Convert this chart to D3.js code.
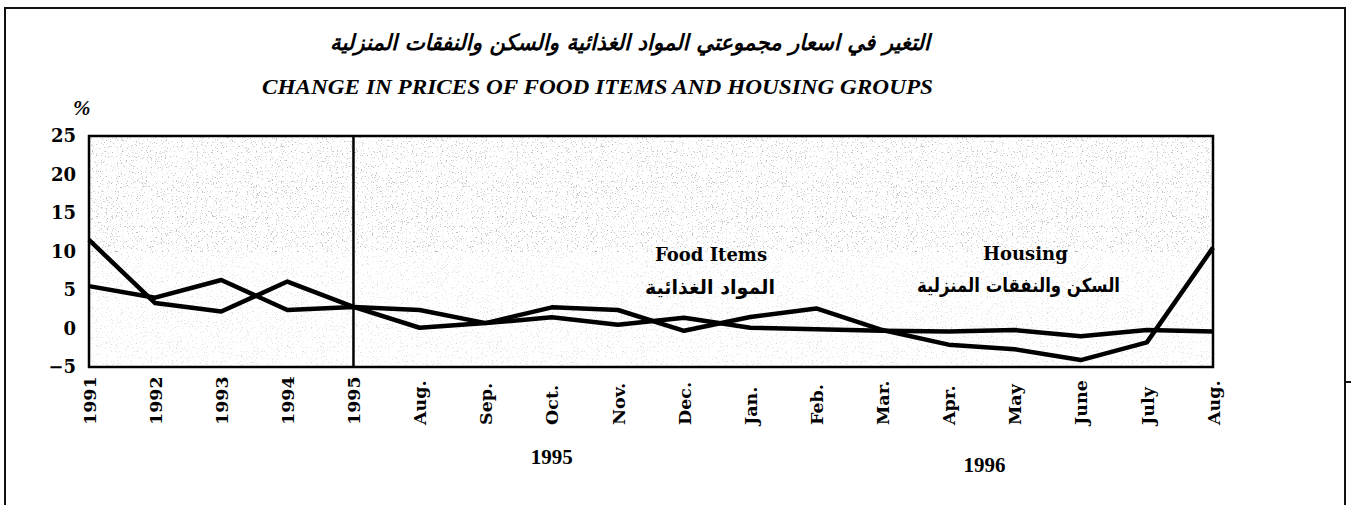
<!DOCTYPE html>
<html>
<head>
<meta charset="utf-8">
<script src="https://cdn.jsdelivr.net/npm/d3@7"></script>
<style>
  body { margin: 0; background: #fff; }
  svg { display: block; }
</style>
</head>
<body>
<svg id="chart" width="1352" height="505"></svg>
<script>
// categories along the bottom (yearly, then monthly 1995-1996)
var categories = ['1991', '1992', '1993', '1994', '1995', 'Aug.', 'Sep.', 'Oct.', 'Nov.',
  'Dec.', 'Jan.', 'Feb.', 'Mar.', 'Apr.', 'May', 'June', 'July', 'Aug.'];

// % change
var foodItems = [11.5, 3.3, 2.2, 6.1, 2.8, 0.1, 0.7, 2.75, 2.4, -0.3, 1.5, 2.6, -0.2, -2.1, -2.7, -4.1, -1.8, 10.5];
var housing = [5.5, 4.0, 6.3, 2.4, 2.8, 2.4, 0.7, 1.45, 0.5, 1.4, 0.1, -0.1, -0.3, -0.4, -0.2, -1.0, -0.2, -0.4];

var yTicks = [-5, 0, 5, 10, 15, 20, 25];

var titleAr = 'التغير في اسعار مجموعتي المواد الغذائية والسكن والنفقات المنزلية';
var titleEn = 'CHANGE IN PRICES OF FOOD ITEMS AND HOUSING GROUPS';

function buildChart() {

  //Dimension-related vars
  var plotLeft = 89, plotRight = 1213, plotTop = 136, plotBottom = 367;

  var svg = d3.select('#chart');

  var x = d3.scalePoint()
    .domain(d3.range(categories.length))
    .range([plotLeft, plotRight]);

  var y = d3.scaleLinear()
    .domain([-5, 25])
    .range([plotBottom, plotTop]);

  // stipple texture for the plot background (scan look)
  var defs = svg.append('defs');
  var f1 = defs.append('filter').attr('id', 'stipple')
    .attr('x', 0).attr('y', 0).attr('width', 1).attr('height', 1);
  f1.append('feTurbulence')
    .attr('type', 'fractalNoise')
    .attr('baseFrequency', 0.8)
    .attr('numOctaves', 2)
    .attr('seed', 7);
  f1.append('feColorMatrix')
    .attr('type', 'matrix')
    .attr('values', '0 0 0 0 0.3  0 0 0 0 0.3  0 0 0 0 0.3  8 0 0 0 -4.9');

  //Outer frame
  svg.append('path')
    .attr('d', 'M5,505 L5,8 L1345,8 L1345,505')
    .attr('fill', 'none')
    .attr('stroke', '#111')
    .attr('stroke-width', 2);
  svg.append('line')
    .attr('x1', 1345).attr('x2', 1351)
    .attr('y1', 382).attr('y2', 382)
    .attr('stroke', '#111')
    .attr('stroke-width', 2);

  //Titles
  svg.append('text')
    .attr('x', 330)
    .attr('y', 50)
    .attr('textLength', 600)
    .attr('lengthAdjust', 'spacingAndGlyphs')
    .attr('font-family', 'DejaVu Sans')
    .attr('font-size', 22)
    .style('font-weight', 'bold')
    .style('font-style', 'italic')
    .text(titleAr);

  svg.append('text')
    .attr('x', 262)
    .attr('y', 94)
    .attr('textLength', 671)
    .attr('lengthAdjust', 'spacingAndGlyphs')
    .attr('font-family', 'Liberation Serif')
    .attr('font-size', 21)
    .style('font-weight', 'bold')
    .style('font-style', 'italic')
    .text(titleEn);

  svg.append('text')
    .attr('x', 73)
    .attr('y', 115)
    .attr('font-family', 'Liberation Serif')
    .attr('font-size', 21)
    .style('font-weight', 'bold')
    .style('font-style', 'italic')
    .text('%');

  //Plot background
  var plot = svg.append('g').attr('class', 'plot');
  plot.append('rect')
    .attr('x', plotLeft).attr('y', plotTop)
    .attr('width', plotRight - plotLeft).attr('height', plotBottom - plotTop)
    .attr('fill', '#fff');
  plot.append('rect')
    .attr('x', plotLeft).attr('y', plotTop)
    .attr('width', plotRight - plotLeft).attr('height', y(10) - plotTop)
    .attr('filter', 'url(#stipple)')
    .attr('opacity', 0.6);
  plot.append('rect')
    .attr('x', plotLeft).attr('y', y(10))
    .attr('width', plotRight - plotLeft).attr('height', plotBottom - y(10))
    .attr('filter', 'url(#stipple)')
    .attr('opacity', 0.3);

  //Y axis labels
  var yAxis = d3.axisLeft(y)
    .tickValues(yTicks)
    .tickSize(0)
    .tickPadding(13);
  svg.append('g')
    .attr('class', 'y axis')
    .attr('transform', 'translate(' + plotLeft + ',0)')
    .call(yAxis)
    .call(function(g) { g.select('.domain').remove(); })
    .selectAll('text')
    .attr('font-family', 'DejaVu Serif')
    .attr('font-size', 18)
    .style('font-weight', 'bold')
    .attr('fill', '#000');

  //X axis labels (rotated)
  var xAxis = d3.axisBottom(x)
    .tickSize(0)
    .tickFormat(function(d) { return categories[d]; });
  svg.append('g')
    .attr('class', 'x axis')
    .attr('transform', 'translate(0,' + plotBottom + ')')
    .call(xAxis)
    .call(function(g) { g.select('.domain').remove(); })
    .selectAll('text')
    .attr('font-family', 'DejaVu Serif')
    .attr('font-size', 17.5)
    .style('font-weight', 'bold')
    .attr('fill', '#000')
    .attr('text-anchor', 'start')
    .attr('dy', '0.35em')
    .attr('transform', 'translate(0,58) rotate(-90)')
    .attr('y', 0)
    .attr('x', 0);

  //Year labels under months
  svg.append('text')
    .attr('x', x(7))
    .attr('y', 464)
    .attr('text-anchor', 'middle')
    .attr('font-family', 'Liberation Serif')
    .attr('font-size', 21)
    .style('font-weight', 'bold')
    .text('1995');
  svg.append('text')
    .attr('x', (x(13) + x(14)) / 2 + 3)
    .attr('y', 472)
    .attr('text-anchor', 'middle')
    .attr('font-family', 'Liberation Serif')
    .attr('font-size', 21)
    .style('font-weight', 'bold')
    .text('1996');

  //Lines
  var line = d3.line()
    .x(function(d, i) { return x(i); })
    .y(function(d) { return y(d); });

  plot.append('path')
    .attr('d', line(housing))
    .attr('fill', 'none')
    .attr('stroke', '#000')
    .attr('stroke-width', 4.5)
    .attr('stroke-linejoin', 'round');

  plot.append('path')
    .attr('d', line(foodItems))
    .attr('fill', 'none')
    .attr('stroke', '#000')
    .attr('stroke-width', 4.5)
    .attr('stroke-linejoin', 'round');

  //Separator between yearly and monthly values
  plot.append('line')
    .attr('x1', x(4)).attr('x2', x(4))
    .attr('y1', plotTop).attr('y2', plotBottom)
    .attr('stroke', '#000')
    .attr('stroke-width', 2.5);

  //Plot frame
  plot.append('rect')
    .attr('x', plotLeft).attr('y', plotTop)
    .attr('width', plotRight - plotLeft).attr('height', plotBottom - plotTop)
    .attr('fill', 'none')
    .attr('stroke', '#000')
    .attr('stroke-width', 2.5);

  //Series labels
  svg.append('text')
    .attr('x', 655)
    .attr('y', 261)
    .attr('font-family', 'DejaVu Serif')
    .attr('font-size', 18)
    .style('font-weight', 'bold')
    .text('Food Items');
  svg.append('text')
    .attr('x', 645)
    .attr('y', 294)
    .attr('textLength', 130)
    .attr('lengthAdjust', 'spacingAndGlyphs')
    .attr('font-family', 'DejaVu Sans')
    .attr('font-size', 19.5)
    .style('font-weight', 'bold')
    .text('المواد الغذائية');

  svg.append('text')
    .attr('x', 983)
    .attr('y', 260)
    .attr('font-family', 'DejaVu Serif')
    .attr('font-size', 18)
    .style('font-weight', 'bold')
    .text('Housing');
  svg.append('text')
    .attr('x', 917)
    .attr('y', 292)
    .attr('textLength', 203)
    .attr('lengthAdjust', 'spacingAndGlyphs')
    .attr('font-family', 'DejaVu Sans')
    .attr('font-size', 19.5)
    .style('font-weight', 'bold')
    .text('السكن والنفقات المنزلية');
}

buildChart();
</script>
</body>
</html>
